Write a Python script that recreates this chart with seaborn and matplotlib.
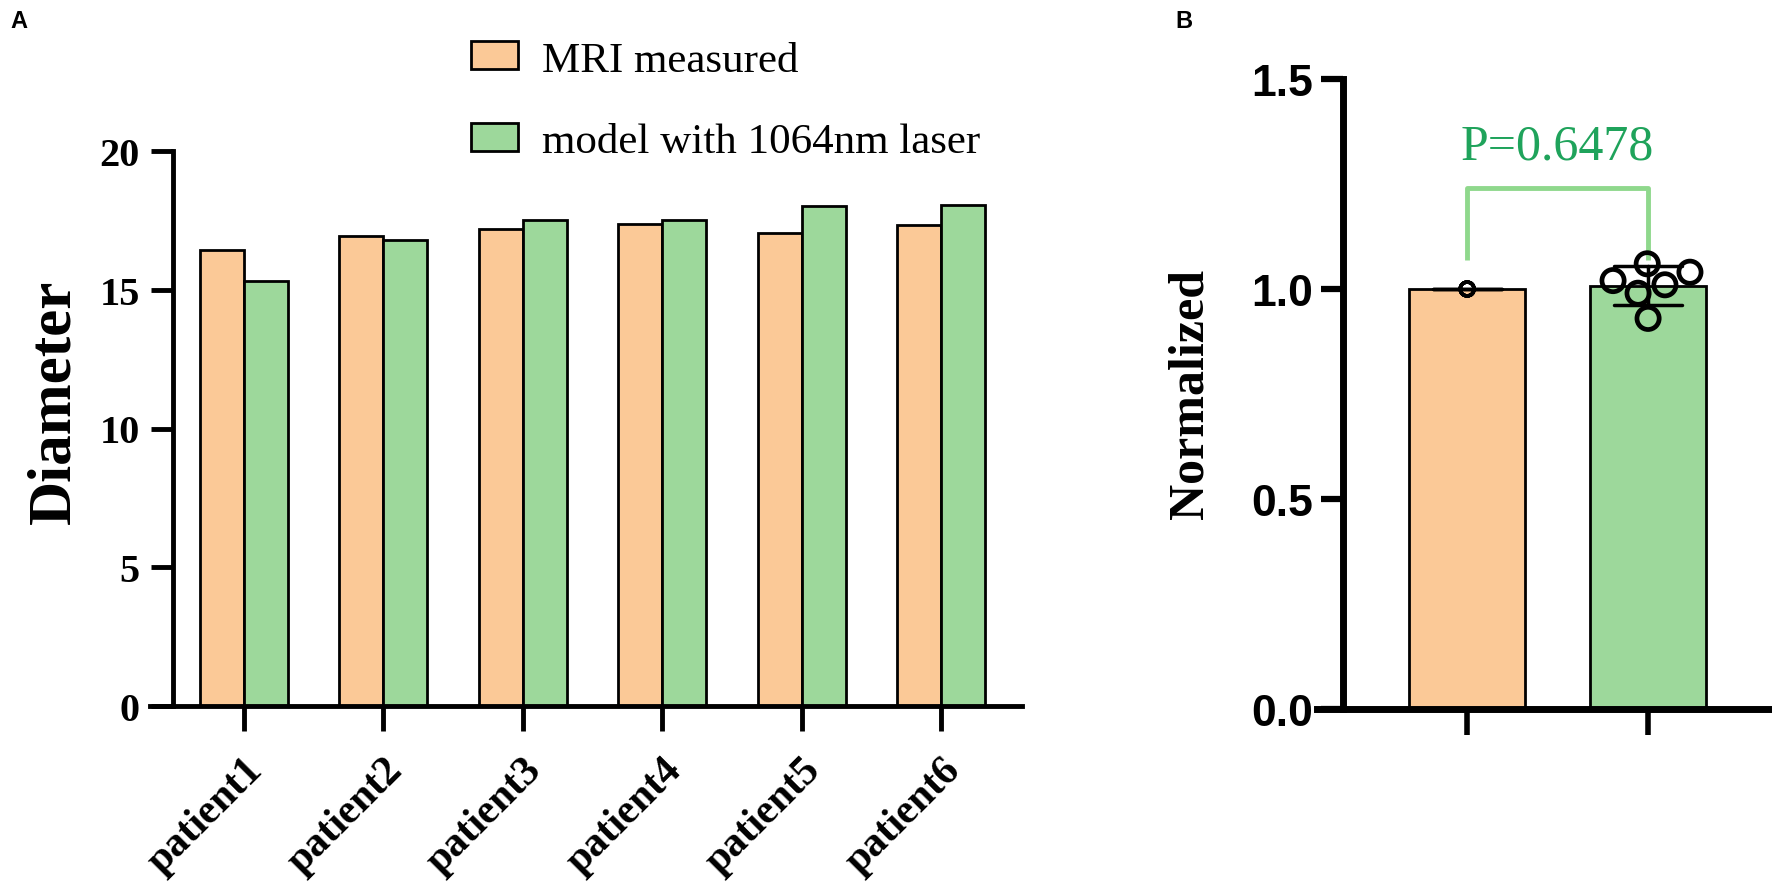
import matplotlib
matplotlib.use("Agg")
import matplotlib.pyplot as plt
import seaborn as sns
import pandas as pd

sns.set_style("ticks")
plt.rcParams["font.family"] = ["Liberation Serif", "DejaVu Serif"]
for key in ["text.color", "axes.labelcolor", "xtick.color", "ytick.color", "axes.edgecolor"]:
    plt.rcParams[key] = "black"

# ---- data ----
patients = ["patient1", "patient2", "patient3", "patient4", "patient5", "patient6"]
series = ["MRI measured", "model with 1064nm laser"]
mri_diam = [16.45, 16.93, 17.19, 17.37, 17.04, 17.34]
model_diam = [15.30, 16.78, 17.52, 17.52, 18.02, 18.05]

norm_groups = ["MRI measured", "model with 1064nm laser"]
mri_norm = [1.00, 1.00, 1.00, 1.00, 1.00, 1.00]
model_norm = [0.93, 0.99, 1.02, 1.01, 1.06, 1.04]
p_text = "P=0.6478"

orange = "#FBC997"
green = "#9DD89B"
bracket_green = "#8FD88C"
text_green = "#1FA35B"

W, H = 1772, 887
fig = plt.figure(figsize=(W / 100, H / 100), dpi=100)

# ---- panel A ----
df_a = pd.DataFrame({
    "patient": patients * 2,
    "diameter": mri_diam + model_diam,
    "series": [series[0]] * 6 + [series[1]] * 6,
})

ax1 = fig.add_axes([150 / W, 1 - 707 / H, 872 / W, 555 / H])
sns.barplot(data=df_a, x="patient", y="diameter", hue="series",
            palette=[orange, green], width=0.63, gap=0, saturation=1,
            edgecolor="black", linewidth=2, ax=ax1)

ax1.set_xlim(-0.674, 5.58)
ax1.set_ylim(0, 20)
for s in ["top", "right"]:
    ax1.spines[s].set_visible(False)
ax1.spines["left"].set_position(("data", -0.509))
ax1.spines["left"].set_linewidth(3.5)
ax1.spines["bottom"].set_linewidth(3.5)
ax1.set_yticks([0, 5, 10, 15, 20])
ax1.tick_params(axis="y", width=3.5, length=16, labelsize=29, pad=8)
ax1.tick_params(axis="x", width=3.5, length=18, pad=14)
ax1.set_xticks(range(len(patients)))
ax1.set_xticklabels(patients, rotation=45, ha="right", rotation_mode="anchor",
                    fontweight="bold", fontsize=30)
for lbl in ax1.get_yticklabels():
    lbl.set_fontweight("bold")
ax1.set_xlabel("")
ax1.set_ylabel("")

handles, labels = ax1.get_legend_handles_labels()
ax1.legend(handles, labels, loc="upper left",
           bbox_to_anchor=(471 / W, 1 - 42 / H), bbox_transform=fig.transFigure,
           frameon=False, prop={"family": "Liberation Serif", "size": 31},
           handlelength=1.1, handleheight=0.63, labelspacing=1.0,
           handletextpad=0.55, borderpad=0, borderaxespad=0)

fig.text(54 / W, 1 - 402 / H, "Diameter", rotation=90, ha="center", va="center",
         fontsize=44, fontweight="bold")

# ---- panel B ----
df_b = pd.DataFrame({
    "group": [norm_groups[0]] * 6 + [norm_groups[1]] * 6,
    "value": mri_norm + model_norm,
})

ax2 = fig.add_axes([1317 / W, 1 - 710 / H, 455 / W, 630 / H])
sns.barplot(data=df_b, x="group", y="value", hue="group", order=norm_groups,
            hue_order=norm_groups, palette=[orange, green], width=0.64,
            errorbar="sd", capsize=0.38, saturation=1, legend=False,
            err_kws={"color": "black", "linewidth": 2.5},
            edgecolor="black", linewidth=2, ax=ax2)
sns.stripplot(data=df_b[df_b["group"] == norm_groups[0]], x="group", y="value",
              order=norm_groups, jitter=False, size=10, color="black", ax=ax2)
sns.swarmplot(data=df_b[df_b["group"] == norm_groups[1]], x="group", y="value",
              order=norm_groups, size=16, color="black", ax=ax2)
for i, coll in enumerate(ax2.collections):
    coll.set_facecolor("none")
    coll.set_edgecolor("black")
    coll.set_linewidth(2.5 if i == 0 else 3.4)
    coll.set_zorder(4)

# significance bracket
ax2.plot([0, 0, 1, 1], [1.07, 1.24, 1.24, 1.07], color=bracket_green, lw=3.5,
         solid_capstyle="butt")
ax2.text(0.5, 1.34, p_text, ha="center", va="center", color=text_green,
         fontsize=36, family="Liberation Serif")

ax2.set_xlim(-0.83, 1.685)
ax2.set_ylim(0, 1.5)
for s in ["top", "right"]:
    ax2.spines[s].set_visible(False)
ax2.spines["left"].set_position(("data", -0.685))
ax2.spines["left"].set_linewidth(5)
ax2.spines["bottom"].set_linewidth(5)
ax2.set_yticks([0, 0.5, 1.0, 1.5])
ax2.set_yticklabels(["0.0", "0.5", "1.0", "1.5"], family="Liberation Sans",
                    fontweight="bold", fontsize=32)
ax2.set_xticks([0, 1])
ax2.set_xticklabels(["", ""])
ax2.tick_params(axis="y", width=4.5, length=16, pad=6)
ax2.tick_params(axis="x", width=4, length=19)
ax2.set_xlabel("")
ax2.set_ylabel("")
fig.text(1191 / W, 1 - 394 / H, "Normalized", rotation=90, ha="center",
         va="center", fontsize=36, fontweight="bold")

# panel letters
fig.text(10 / W, 1 - 22 / H, "A", fontsize=17, fontweight="bold",
         family="Liberation Sans", va="center")
fig.text(1175 / W, 1 - 22 / H, "B", fontsize=17, fontweight="bold",
         family="Liberation Sans", va="center")

fig.savefig("out.png", dpi=100)
